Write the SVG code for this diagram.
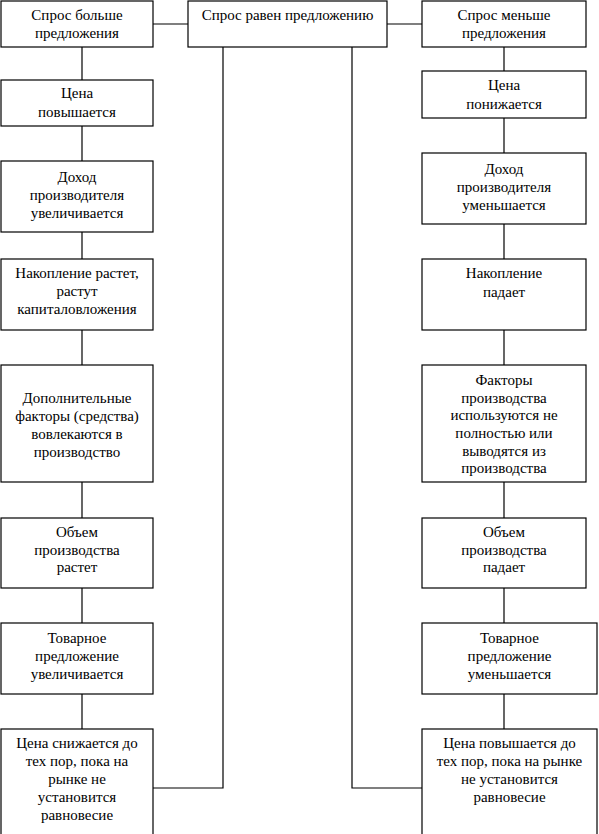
<svg xmlns="http://www.w3.org/2000/svg" width="599" height="834" viewBox="0 0 599 834">
<style>
rect{fill:#fff;stroke:#000;stroke-width:1.2}
line,polyline{stroke:#000;stroke-width:1.2;fill:none}
</style>
<rect x="0" y="0" width="599" height="834" style="stroke:none"/>
<g id="connectors">
<line x1="153" y1="24" x2="188" y2="24"/>
<line x1="387" y1="24" x2="422" y2="24"/>
<line x1="82" y1="47" x2="82" y2="80"/>
<line x1="82" y1="126" x2="82" y2="161"/>
<line x1="82" y1="232" x2="82" y2="259"/>
<line x1="82" y1="330" x2="82" y2="365"/>
<line x1="82" y1="482" x2="82" y2="518"/>
<line x1="82" y1="588" x2="82" y2="623"/>
<line x1="82" y1="694" x2="82" y2="729"/>
<line x1="504" y1="47" x2="504" y2="71"/>
<line x1="504" y1="118" x2="504" y2="153"/>
<line x1="504" y1="224" x2="504" y2="259"/>
<line x1="504" y1="330" x2="504" y2="365"/>
<line x1="504" y1="482" x2="504" y2="518"/>
<line x1="504" y1="588" x2="504" y2="623"/>
<line x1="504" y1="694" x2="504" y2="729"/>
<polyline points="223,47 223,788 153,788"/>
<polyline points="352,47 352,788 422,788"/>
</g>
<g font-family="Times New Roman" font-size="15" text-anchor="middle" fill="#000">
<g id="n1"><rect x="1" y="1" width="152" height="46"/><text x="77" y="20">Спрос больше</text><text x="77" y="38">предложения</text></g>
<g id="n2"><rect x="188" y="1" width="199" height="46"/><text x="287.5" y="20">Спрос равен предложению</text></g>
<g id="n3"><rect x="422" y="1" width="164" height="46"/><text x="504" y="20">Спрос меньше</text><text x="504" y="38">предложения</text></g>
<g id="l2"><rect x="1" y="80" width="152" height="46"/><text x="77" y="98">Цена</text><text x="77" y="116.5">повышается</text></g>
<g id="l3"><rect x="1" y="161" width="152" height="71"/><text x="77" y="181.5">Доход</text><text x="77" y="199.5">производителя</text><text x="77" y="217.5">увеличивается</text></g>
<g id="l4"><rect x="1" y="259" width="152" height="71"/><text x="77" y="278">Накопление растет,</text><text x="77" y="296">растут</text><text x="77" y="314">капиталовложения</text></g>
<g id="l5"><rect x="1" y="365" width="152" height="117"/><text x="77" y="402.5">Дополнительные</text><text x="77" y="420.5">факторы (средства)</text><text x="77" y="438.5">вовлекаются в</text><text x="77" y="456.5">производство</text></g>
<g id="l6"><rect x="1" y="518" width="152" height="70"/><text x="77" y="537">Объем</text><text x="77" y="555">производства</text><text x="77" y="572">растет</text></g>
<g id="l7"><rect x="1" y="623" width="152" height="71"/><text x="77" y="643">Товарное</text><text x="77" y="661">предложение</text><text x="77" y="678.5">увеличивается</text></g>
<g id="l8"><rect x="1" y="729" width="152" height="120"/><text x="77" y="748">Цена снижается до</text><text x="77" y="766">тех пор, пока на</text><text x="77" y="784">рынке не</text><text x="77" y="802">установится</text><text x="77" y="820">равновесие</text></g>
<g id="r2"><rect x="422" y="71" width="164" height="47"/><text x="504" y="90">Цена</text><text x="504" y="108.5">понижается</text></g>
<g id="r3"><rect x="422" y="153" width="164" height="71"/><text x="504" y="174">Доход</text><text x="504" y="192">производителя</text><text x="504" y="209.5">уменьшается</text></g>
<g id="r4"><rect x="422" y="259" width="164" height="71"/><text x="504" y="278">Накопление</text><text x="504" y="296.5">падает</text></g>
<g id="r5"><rect x="422" y="365" width="164" height="117"/><text x="504" y="384.5">Факторы</text><text x="504" y="402.5">производства</text><text x="504" y="420">используются не</text><text x="504" y="438">полностью или</text><text x="504" y="455.5">выводятся из</text><text x="504" y="473">производства</text></g>
<g id="r6"><rect x="422" y="518" width="164" height="70"/><text x="504" y="537">Объем</text><text x="504" y="555">производства</text><text x="504" y="572">падает</text></g>
<g id="r7"><rect x="422" y="623" width="175" height="71"/><text x="509.5" y="643">Товарное</text><text x="509.5" y="661">предложение</text><text x="509.5" y="678.5">уменьшается</text></g>
<g id="r8"><rect x="422" y="729" width="175" height="120"/><text x="509.5" y="748">Цена повышается до</text><text x="509.5" y="766">тех пор, пока на рынке</text><text x="509.5" y="784">не установится</text><text x="509.5" y="802">равновесие</text></g>
</g>
</svg>
